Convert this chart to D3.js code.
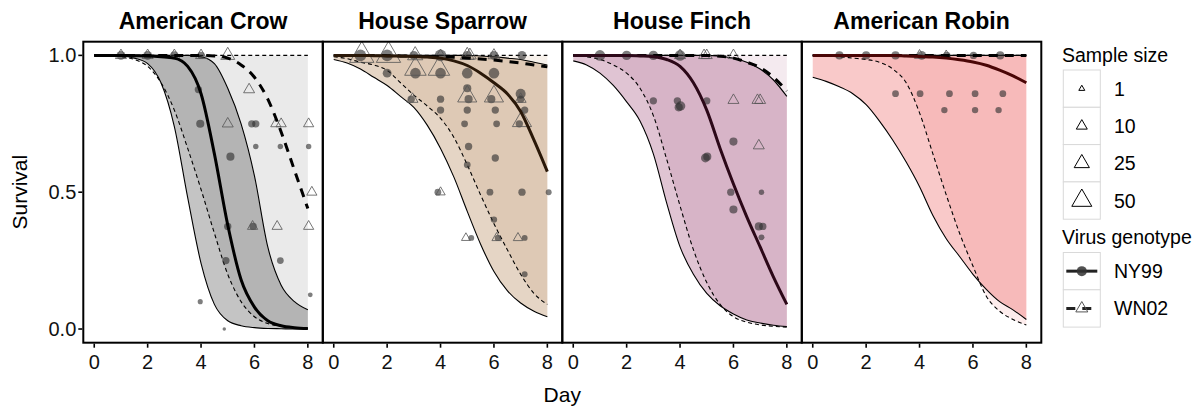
<!DOCTYPE html>
<html><head><meta charset="utf-8">
<script src="https://cdn.jsdelivr.net/npm/d3@7"></script>
<style>body{margin:0;background:#fff} svg{display:block} text{font-family:"Liberation Sans",Arial,Helvetica,sans-serif}</style>
</head><body><svg id="c" width="1193" height="408"></svg>
<script>
// ---------------- DATA ----------------
const species = ["American Crow","House Sparrow","House Finch","American Robin"];
const genotypes = ["NY99","WN02"];
const sizeBreaks = [1,10,25,50];
const xTicks = [0,2,4,6,8];
const yTicks = [0,0.5,1];
const yTickLabels = ["0.0","0.5","1.0"];
const days = [0,0.5,1,1.5,2,2.5,3,3.5,4,4.5,5,5.5,6,6.5,7,7.5,8];

// American Crow
const crowNY99Mean = [1,1,1,0.999,0.998,0.995,0.99,0.96,0.86,0.64,0.38,0.18,0.08,0.03,0.012,0.005,0.002];
const crowNY99Lo   = [1,1,0.998,0.99,0.97,0.9,0.74,0.48,0.24,0.09,0.03,0.012,0.005,0.002,0.001,0,0];
const crowNY99Hi   = [1,1,1,1,1,1,1,1,0.995,0.97,0.88,0.75,0.56,0.3,0.16,0.1,0.07];
const crowWN02Mean = [1,1,1,1,1,1,1,1,1,0.998,0.99,0.965,0.92,0.84,0.72,0.58,0.44];
const crowWN02Lo   = [1,0.998,0.995,0.985,0.96,0.9,0.8,0.66,0.51,0.35,0.2,0.1,0.045,0.02,0.01,0.005,0.002];
const crowWN02Hi   = [1,1,1,1,1,1,1,1,1,1,1,1,1,1,1,1,1];
const crowNY99Pts = [[1,1,25],[2,1,25],[3,1,20],[4,1,15],[3.9,0.875,15],[3.97,0.75,20],[5.1,0.63,20],[5.9,0.75,15],[6.05,0.75,15],[6.05,0.667,6],[6.97,0.667,6],[8.03,0.667,6],[5,0.375,15],[5.95,0.375,15],[4.93,0.25,15],[6.97,0.25,12],[3.97,0.1,5],[8.09,0.125,4],[4.87,0,1]];
const crowWN02Pts = [[1,1,10],[2,1,10],[3,1,10],[4,1,10],[5,1,20],[5.8,0.875,10],[5,0.75,10],[6.8,0.75,8],[7,0.75,8],[8.03,0.75,8],[8.15,0.5,8],[5.93,0.375,8],[6.85,0.375,8],[8.03,0.375,8]];

// House Sparrow
const sparNY99Mean = [1,1,1,0.999,0.998,0.997,0.996,0.994,0.99,0.98,0.963,0.935,0.9,0.86,0.795,0.69,0.575];
const sparNY99Lo   = [0.985,0.972,0.95,0.92,0.89,0.85,0.81,0.745,0.66,0.555,0.43,0.31,0.21,0.14,0.095,0.065,0.045];
const sparNY99Hi   = [1,1,1,1,1,1,1,1,1,1,1,0.998,0.995,0.99,0.985,0.975,0.965];
const sparWN02Mean = [1,1,1,1,0.999,0.998,0.997,0.996,0.995,0.993,0.99,0.987,0.983,0.978,0.972,0.965,0.958];
const sparWN02Lo   = [0.995,0.988,0.975,0.965,0.945,0.9,0.855,0.815,0.77,0.7,0.6,0.49,0.385,0.29,0.2,0.13,0.09];
const sparWN02Hi   = [1,1,1,1,1,1,1,1,1,1,1,1,1,1,1,1,1];
const sparNY99Pts = [[1,1,50],[2,1,50],[3,1,25],[4,1,50],[5,1,25],[6,1,25],[7.05,1,25],
  [2,0.935,25],[3.06,0.935,40],[4,0.935,40],[5,0.935,40],[6,0.935,40],[5,0.88,20],[7,0.86,35],
  [2.9,0.84,15],[4,0.84,15],[5.05,0.84,20],[5.9,0.84,20],[7,0.84,15],
  [4,0.8,15],[5,0.8,15],[6.05,0.8,15],[7.15,0.8,15],[4.9,0.75,12],[6.1,0.75,12],[6.95,0.75,15],
  [5.05,0.667,15],[6.05,0.625,15],[5,0.6,12],[3.9,0.5,12],[5.85,0.5,12],[7.05,0.5,15],[8.05,0.5,8],
  [6,0.4,10],[5.15,0.333,8],[6.15,0.333,10],[7.15,0.333,8],[7.15,0.2,8]];
const sparWN02Pts = [[1.05,1,80],[2.05,1,80],[3.05,1,25],[4,1,10],[5,1,20],[5.1,1,15],[6,1,12],
  [3.06,0.95,60],[3.94,0.95,60],[5,0.85,45],[6,0.85,45],[7,0.84,10],[2.95,0.84,10],[7.05,0.76,45],
  [4,0.5,6],[4.95,0.333,5],[6.1,0.333,6],[6.9,0.333,6]];

// House Finch
const finNY99Mean = [1,1,1,1,1,0.998,0.995,0.985,0.96,0.9,0.8,0.66,0.53,0.41,0.3,0.19,0.09];
const finNY99Lo   = [0.98,0.965,0.935,0.89,0.83,0.76,0.64,0.46,0.3,0.2,0.13,0.085,0.055,0.033,0.022,0.014,0.009];
const finNY99Hi   = [1,1,1,1,1,1,1,1,1,1,1,0.997,0.99,0.975,0.95,0.91,0.85];
const finWN02Mean = [1,1,1,1,1,1,1,1,1,1,1,0.997,0.99,0.975,0.955,0.92,0.87];
const finWN02Lo   = [1,0.995,0.985,0.965,0.935,0.88,0.78,0.62,0.45,0.29,0.17,0.09,0.045,0.025,0.015,0.01,0.007];
const finWN02Hi   = [1,1,1,1,1,1,1,1,1,1,1,1,1,1,1,1,1];
const finNY99Pts = [[1,1,40],[2,1,30],[3,1,30],[4,1,40],[3,0.834,15],[3.9,0.834,15],[5,0.834,15],
  [4.02,0.815,30],[3.95,0.81,20],[6,0.685,20],[4.95,0.625,25],[5.02,0.63,20],[5.9,0.5,15],[7.05,0.5,6],
  [6,0.437,20],[6.95,0.375,20],[7.1,0.375,15],[7.05,0.335,8]];
const finWN02Pts = [[4,1,10],[4.9,1,10],[5,1,10],[6,1,10],[6,0.836,10],[6.9,0.836,10],[7,0.836,10],[6.95,0.67,10]];

// American Robin
const robNY99Mean = [1,1,1,1,1,1,1,0.998,0.996,0.994,0.99,0.984,0.976,0.964,0.946,0.925,0.9];
const robNY99Lo   = [0.92,0.905,0.885,0.86,0.82,0.76,0.69,0.61,0.52,0.415,0.33,0.265,0.2,0.145,0.1,0.07,0.035];
const robNY99Hi   = [1,1,1,1,1,1,1,1,1,1,1,1,1,1,1,1,1];
const robWN02Mean = [1,1,1,1,1,1,1,1,1,1,1,1,1,1,1,1,1];
const robWN02Lo   = [1,0.998,0.995,0.99,0.985,0.975,0.95,0.9,0.79,0.64,0.49,0.35,0.23,0.12,0.065,0.035,0.015];
const robWN02Hi   = [1,1,1,1,1,1,1,1,1,1,1,1,1,1,1,1,1];
const robNY99Pts = [[1,1,20],[2,1,20],[3.1,1,20],[4.08,1,25],[5.02,1,15],[6.02,1,15],[7.02,1,20],
  [3.1,0.86,12],[4.02,0.86,12],[5.12,0.86,12],[6.08,0.86,12],[7.12,0.86,12],[4.93,0.8,10],[6.08,0.8,10],[6.96,0.8,10]];
const robWN02Pts = [[4,1,8],[5,1,6]];

// ---------------- CHART ----------------
const panels = [
  {nyM:crowNY99Mean,nyL:crowNY99Lo,nyH:crowNY99Hi,wnM:crowWN02Mean,wnL:crowWN02Lo,wnH:crowWN02Hi,nyP:crowNY99Pts,wnP:crowWN02Pts},
  {nyM:sparNY99Mean,nyL:sparNY99Lo,nyH:sparNY99Hi,wnM:sparWN02Mean,wnL:sparWN02Lo,wnH:sparWN02Hi,nyP:sparNY99Pts,wnP:sparWN02Pts},
  {nyM:finNY99Mean,nyL:finNY99Lo,nyH:finNY99Hi,wnM:finWN02Mean,wnL:finWN02Lo,wnH:finWN02Hi,nyP:finNY99Pts,wnP:finWN02Pts},
  {nyM:robNY99Mean,nyL:robNY99Lo,nyH:robNY99Hi,wnM:robWN02Mean,wnL:robWN02Lo,wnH:robWN02Hi,nyP:robNY99Pts,wnP:robWN02Pts}
];
const styles = [
  {base:"#131313", line:"#000000"},
  {base:"#975717", line:"#2a1808"},
  {base:"#83134f", line:"#2c0818"},
  {base:"#e72727", line:"#4a0606"}
];
const FONT = '"Liberation Sans",Arial,sans-serif';
const svg = d3.select("#c");
const panelLeft = 83.3, panelW = 239.5, panelTop = 41.7, panelBottom = 342.7;
const y = d3.scaleLinear().domain([-0.05,1.05]).range([panelBottom,panelTop]);
const sizeW = d3.scaleLinear().domain([1,Math.sqrt(50)]).range([6,20]);
const triPath = w => { const h = w*0.866; return `M0,${(-2*h/3).toFixed(2)}L${(w/2).toFixed(2)},${(h/3).toFixed(2)}L${(-w/2).toFixed(2)},${(h/3).toFixed(2)}Z`; };

panels.forEach((p,i) => {
  const L = panelLeft + i*panelW;
  const x = d3.scaleLinear().domain([-0.41,8.56]).range([L, L+panelW]);
  const st = styles[i];
  const g = svg.append("g");
  const cid = "clip"+i;
  svg.append("clipPath").attr("id",cid).append("rect").attr("x",L).attr("y",panelTop).attr("width",panelW).attr("height",panelBottom-panelTop);
  const pg = g.append("g").attr("clip-path",`url(#${cid})`);
  const area = (lo,hi) => d3.area().x((d,j)=>x(days[j])).y0((d,j)=>y(lo[j])).y1((d,j)=>y(hi[j])).curve(d3.curveMonotoneX)(days);
  const line = arr => d3.line().x((d,j)=>x(days[j])).y((d,j)=>y(arr[j])).curve(d3.curveMonotoneX)(days);
  pg.append("path").attr("d",area(p.nyL,p.nyH)).attr("fill",st.base).attr("fill-opacity",0.25);
  pg.append("path").attr("d",area(p.wnL,p.wnH)).attr("fill",st.base).attr("fill-opacity",0.09);
  [p.nyL,p.nyH].forEach(a => pg.append("path").attr("d",line(a)).attr("fill","none").attr("stroke","#000").attr("stroke-width",1.1));
  [p.wnL,p.wnH].forEach(a => pg.append("path").attr("d",line(a)).attr("fill","none").attr("stroke","#000").attr("stroke-width",1.1).attr("stroke-dasharray","4,3"));
  // points
  p.nyP.forEach(d => pg.append("circle").attr("cx",x(d[0])).attr("cy",y(d[1])).attr("r",sizeW(Math.sqrt(d[2]))*0.29)
     .attr("fill","#2e2e2e").attr("fill-opacity",0.62));
  p.wnP.forEach(d => pg.append("path").attr("d",triPath(sizeW(Math.sqrt(d[2])))).attr("transform",`translate(${x(d[0])},${y(d[1])})`)
     .attr("fill","none").attr("stroke","#555").attr("stroke-opacity",0.8).attr("stroke-width",1));
  // mean lines
  pg.append("path").attr("d",line(p.wnM)).attr("fill","none").attr("stroke","#000").attr("stroke-width",3).attr("stroke-dasharray","9,7");
  pg.append("path").attr("d",line(p.nyM)).attr("fill","none").attr("stroke",st.line).attr("stroke-width",3);
  // border
  g.append("rect").attr("x",L).attr("y",panelTop).attr("width",panelW).attr("height",panelBottom-panelTop)
    .attr("fill","none").attr("stroke","#000").attr("stroke-width",2);
  // title
  g.append("text").attr("x",L+panelW/2).attr("y",28.5).attr("text-anchor","middle")
    .attr("font-size",23).attr("font-weight","bold").attr("fill","#000").style("font-family",FONT).text(species[i]);
  // x axis
  xTicks.forEach(t => {
    g.append("line").attr("x1",x(t)).attr("x2",x(t)).attr("y1",panelBottom+1).attr("y2",panelBottom+5).attr("stroke","#000").attr("stroke-width",1.6);
    g.append("text").attr("x",x(t)).attr("y",369).attr("text-anchor","middle").attr("font-size",20).attr("fill","#111").style("font-family",FONT).text(t);
  });
});

// y axis
yTicks.forEach((t,k) => {
  svg.append("line").attr("x1",panelLeft-5).attr("x2",panelLeft-1).attr("y1",y(t)).attr("y2",y(t)).attr("stroke","#000").attr("stroke-width",1.6);
  svg.append("text").attr("x",panelLeft-7).attr("y",y(t)+7.1).attr("text-anchor","end").attr("font-size",20).attr("fill","#111").style("font-family",FONT).text(yTickLabels[k]);
});
svg.append("text").attr("transform",`translate(27,${(panelTop+panelBottom)/2}) rotate(-90)`).attr("text-anchor","middle")
  .attr("font-size",21).attr("fill","#000").style("font-family",FONT).text("Survival");
svg.append("text").attr("x",panelLeft+2*panelW).attr("y",402).attr("text-anchor","middle")
  .attr("font-size",21).attr("fill","#000").style("font-family",FONT).text("Day");

// legend
const lx = 1063.3, kw = 37, kh = 37.3;
svg.append("text").attr("x",1062).attr("y",62).attr("font-size",19.5).attr("fill","#000").style("font-family",FONT).text("Sample size");
sizeBreaks.forEach((n,k) => {
  const ty = 70 + k*kh;
  svg.append("rect").attr("x",lx).attr("y",ty).attr("width",kw).attr("height",kh).attr("fill","#fff").attr("stroke","#d9d9d9").attr("stroke-width",1);
  svg.append("path").attr("d",triPath(sizeW(Math.sqrt(n)))).attr("transform",`translate(${lx+kw/2},${ty+kh/2})`).attr("fill","none").attr("stroke","#000").attr("stroke-width",1);
  svg.append("text").attr("x",1114).attr("y",ty+kh/2+7).attr("font-size",19.5).attr("fill","#000").style("font-family",FONT).text(n);
});
svg.append("text").attr("x",1062).attr("y",244).attr("font-size",19.5).attr("fill","#000").style("font-family",FONT).text("Virus genotype");
genotypes.forEach((gname,k) => {
  const ty = 252.5 + k*kh;
  const cy = ty+kh/2;
  svg.append("rect").attr("x",lx).attr("y",ty).attr("width",kw).attr("height",kh).attr("fill","#fff").attr("stroke","#d9d9d9").attr("stroke-width",1);
  if (k===0) {
    svg.append("line").attr("x1",lx+3).attr("x2",lx+kw-3).attr("y1",cy).attr("y2",cy).attr("stroke","#222").attr("stroke-width",3);
    svg.append("circle").attr("cx",lx+kw/2).attr("cy",cy).attr("r",5).attr("fill","#333").attr("fill-opacity",0.85);
  } else {
    svg.append("line").attr("x1",lx+3).attr("x2",lx+kw-3).attr("y1",cy).attr("y2",cy).attr("stroke","#222").attr("stroke-width",3).attr("stroke-dasharray","9,7");
    svg.append("path").attr("d",triPath(12)).attr("transform",`translate(${lx+kw/2},${cy})`).attr("fill","none").attr("stroke","#555").attr("stroke-width",1);
  }
  svg.append("text").attr("x",1114).attr("y",cy+7).attr("font-size",19.5).attr("fill","#000").style("font-family",FONT).text(gname);
});
</script></body></html>
